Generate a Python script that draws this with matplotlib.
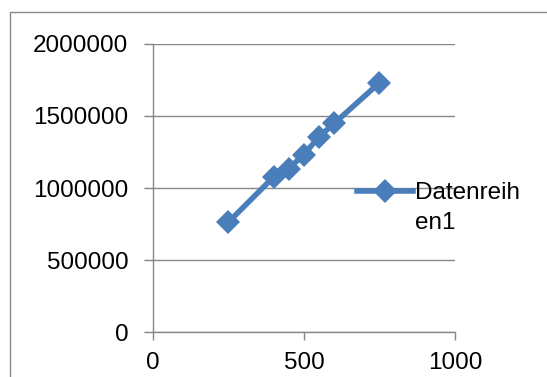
import matplotlib
matplotlib.use("Agg")
import matplotlib.pyplot as plt
from matplotlib.patches import Rectangle

# values
x_vals = [250, 400, 450, 500, 550, 600, 750]
y_vals = [763000, 1077000, 1135000, 1232000, 1355000, 1447000, 1729000]
series_name = "Datenreih\nen1"
x_ticks = [0, 500, 1000]
y_ticks = [0, 500000, 1000000, 1500000, 2000000]

plt.rcParams['font.family'] = ['Liberation Sans', 'DejaVu Sans']
blue = '#4A7EBB'
gray = '#878787'

fig = plt.figure(figsize=(5.47, 3.77), dpi=100)
ax = fig.add_axes([0.2793, 0.1183, 0.8318 - 0.2793, 0.8843 - 0.1183])

ax.plot(x_vals, y_vals, color=blue, lw=4, marker='D', markersize=12,
        markeredgewidth=0, label=series_name, zorder=3)

ax.set_xlim(0, 1000)
ax.set_ylim(0, 2000000)
ax.set_xticks(x_ticks)
ax.set_yticks(y_ticks)
ax.set_xticklabels([str(v) for v in x_ticks])
ax.set_yticklabels([str(v) for v in y_ticks])
ax.yaxis.grid(True, color=gray, lw=1)
ax.set_axisbelow(True)
for s in ['top', 'right']:
    ax.spines[s].set_visible(False)
for s in ['left', 'bottom']:
    ax.spines[s].set_color(gray)
    ax.spines[s].set_linewidth(1)
ax.tick_params(axis='both', colors=gray, labelcolor='black', labelsize=17.5, width=1)
ax.tick_params(axis='y', length=6.5, pad=11)
ax.tick_params(axis='x', length=6, pad=8)

leg = ax.legend(loc='upper left', bbox_to_anchor=(357 / 547, 1 - 182 / 377),
                bbox_transform=fig.transFigure, frameon=False, fontsize=17.5,
                handlelength=2.3, handletextpad=0.1, borderpad=0, borderaxespad=0)
leg.get_texts()[0].set_linespacing(1.45)
# keep the handle level with the first line of the label
for row in leg._legend_handle_box.get_children():
    for item in row.get_children():
        item.align = 'top'

fig.patches.append(Rectangle((10 / 547, -0.1), 1.2, 1 - 12 / 377 + 0.1,
                             transform=fig.transFigure, fill=False,
                             edgecolor=gray, lw=1))

fig.savefig('out.png', dpi=100)
